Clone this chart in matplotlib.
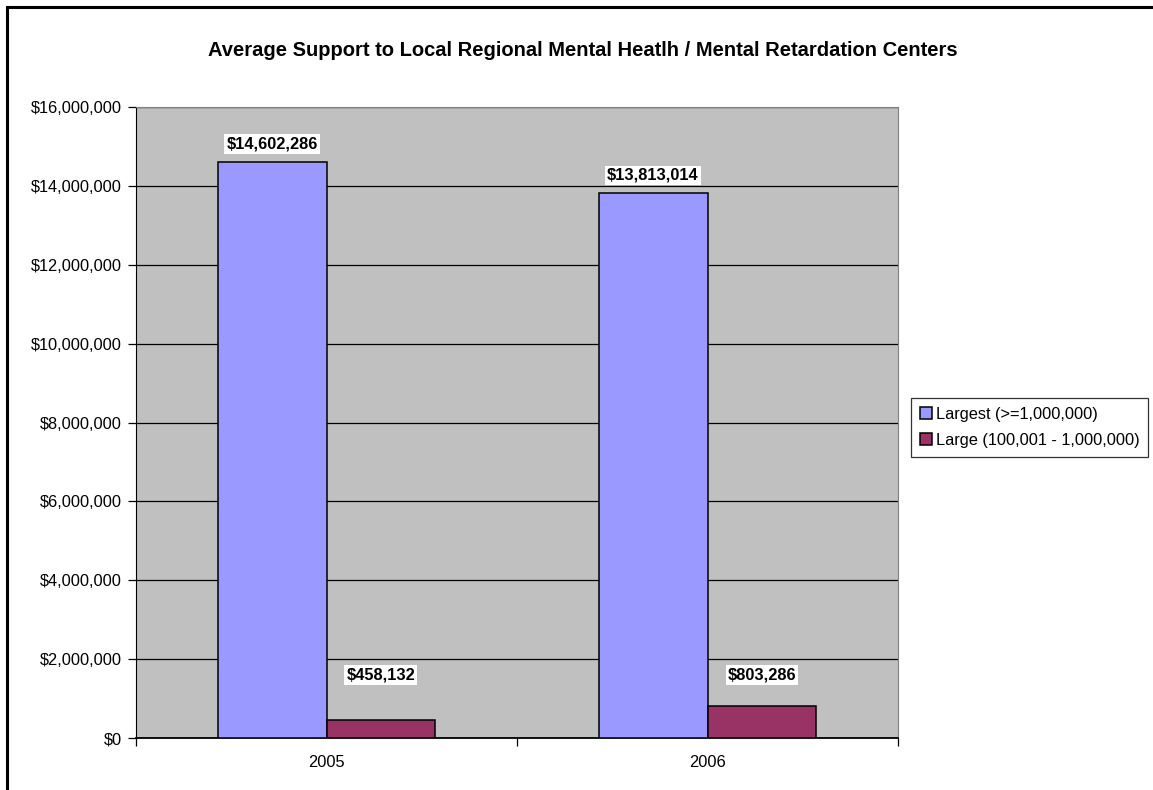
import numpy as np
import matplotlib.pyplot as plt
from matplotlib.patches import Rectangle
from matplotlib.ticker import FuncFormatter

plt.rcParams['font.family'] = ['Liberation Sans', 'DejaVu Sans']

years = ['2005', '2006']
series_names = ['Largest (>=1,000,000)', 'Large (100,001 - 1,000,000)']
largest = [14602286, 13813014]
large = [458132, 803286]
colors = ['#9999FF', '#993366']

fs = 11.8
fig = plt.figure(figsize=(11.53, 7.9), dpi=100)
ax = fig.add_axes([136/1153, 52/790, 762/1153, 631/790])
ax.set_facecolor('#C0C0C0')

x = np.arange(len(years))
w = 0.286
ax.bar(x - w/2, largest, w, color=colors[0], edgecolor='black', linewidth=1.1,
       label=series_names[0], zorder=3)
ax.bar(x + w/2, large, w, color=colors[1], edgecolor='black', linewidth=1.1,
       label=series_names[1], zorder=3)

ax.set_ylim(0, 16000000)
ax.set_yticks(np.arange(0, 16000001, 2000000))
ax.yaxis.set_major_formatter(FuncFormatter(lambda v, p: '${:,.0f}'.format(v)))
ax.grid(axis='y', color='black', linewidth=0.9, zorder=1)
ax.set_axisbelow(True)

ax.set_xlim(-0.5, len(years) - 0.5)
ax.set_xticks(x)
ax.set_xticklabels(years)
ax.set_xticks(np.arange(-0.5, len(years), 1.0), minor=True)
ax.tick_params(axis='x', which='major', length=0, pad=12, labelsize=fs)
ax.tick_params(axis='x', which='minor', length=6, direction='out', width=0.9)
ax.tick_params(axis='y', length=6, direction='out', width=0.9, labelsize=fs, pad=4)

for s in ['top', 'right']:
    ax.spines[s].set_color('#808080')
for s in ['left', 'bottom']:
    ax.spines[s].set_color('black')
ax.spines['bottom'].set_linewidth(1.3)

box = dict(facecolor='white', edgecolor='none', pad=1.5)
for xi, v in zip(x - w/2, largest):
    ax.annotate('${:,.0f}'.format(v), (xi, v), xytext=(0, 13), textcoords='offset points',
                ha='center', va='center', fontsize=fs, fontweight='bold', bbox=box, zorder=5)
for xi, v in zip(x + w/2, large):
    ax.annotate('${:,.0f}'.format(v), (xi, 1600000), ha='center', va='center',
                fontsize=fs, fontweight='bold', bbox=box, zorder=5)

fig.text(0.5 + 6/1153, 1 - 50/790, 'Average Support to Local Regional Mental Heatlh / Mental Retardation Centers',
         ha='center', va='center', fontsize=14.5, fontweight='bold')

leg = fig.legend(loc='upper left', bbox_to_anchor=(911/1153, 1 - 398/790), fontsize=fs,
                 frameon=True, fancybox=False, edgecolor='black', handlelength=0.75,
                 handleheight=0.75, handletextpad=0.2, borderpad=0.55, labelspacing=0.65,
                 borderaxespad=0)
leg.get_frame().set_linewidth(0.9)

fig.patches.append(Rectangle((7/1153, -0.01), 1.02, 1 - 7/790 + 0.01, transform=fig.transFigure,
                             fill=False, edgecolor='black', linewidth=2.2))

fig.savefig('out.png', dpi=100)
